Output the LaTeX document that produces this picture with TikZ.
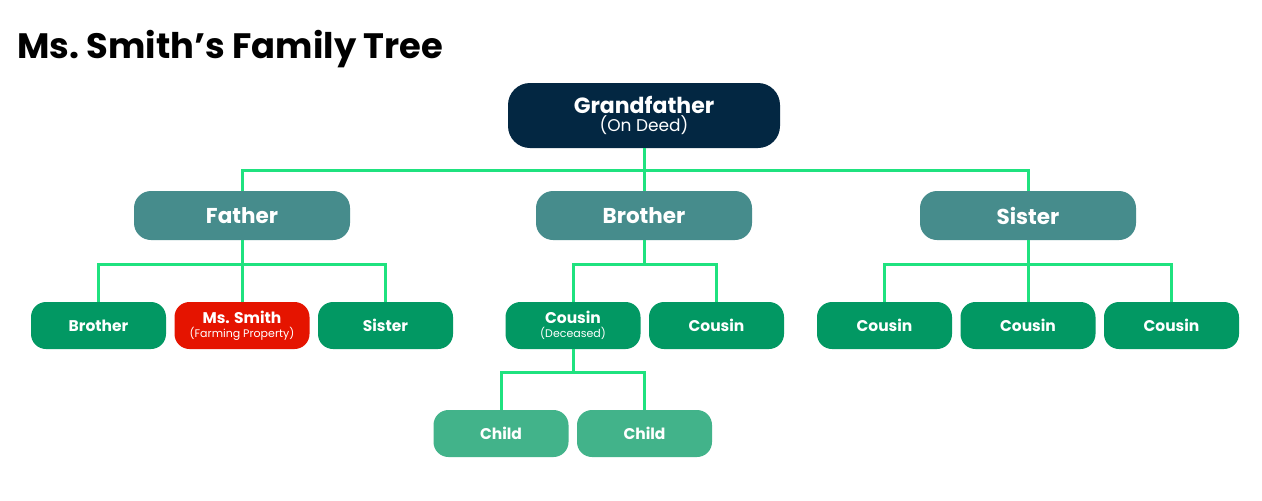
\documentclass[tikz,border=0pt]{standalone}
\usepackage{fontspec}
\setmainfont{Poppins}
\definecolor{navy}{HTML}{032742}
\definecolor{teal2}{HTML}{468C8C}
\definecolor{green3}{HTML}{029863}
\definecolor{redms}{HTML}{E51400}
\definecolor{child}{HTML}{42B38A}
\definecolor{wire}{HTML}{1FE27F}
\tikzset{
  box/.style={text=white, align=center, inner sep=0pt, rounded corners=#1},
  top/.style={box=22pt, fill=navy, minimum width=272pt, minimum height=65pt},
  mid/.style={box=17pt, fill=teal2, minimum width=216pt, minimum height=49pt, font=\fontsize{21.5}{25}\selectfont\bfseries},
  low/.style={box=15pt, fill=green3, minimum width=135pt, minimum height=47pt, font=\fontsize{15.5}{17}\selectfont\bfseries},
  wires/.style={draw=wire, line width=3pt},
}
\begin{document}
\begin{tikzpicture}[x=1pt,y=-1pt]
\useasboundingbox (0,0) rectangle (1262,501);
\fill[white] (0,0) rectangle (1262,501);
\node[anchor=base west, inner sep=0pt, font=\fontsize{35.3}{40}\selectfont\bfseries] (title) at (17,58) {Ms.~Smith’s Family Tree};

\node[top] (gf) at (644,115.5) {{\fontsize{22}{24}\selectfont\bfseries Grandfather}\\[1pt]{\fontsize{17}{20}\selectfont (On Deed)}};
\node[mid] (fa) at (242,215.5) {Father};
\node[mid] (br) at (644,215.5) {Brother};
\node[mid] (si) at (1028,215.5) {Sister};

\node[low] (fb) at (98.5,325.5) {Brother};
\node[low, fill=redms] (ms) at (242,325.5) {Ms. Smith\\[-3pt]{\fontsize{11}{12}\selectfont\mdseries (Farming Property)}};
\node[low] (fs) at (385.5,325.5) {Sister};
\node[low] (cd) at (573,325.5) {Cousin\\[-3pt]{\fontsize{11}{12}\selectfont\mdseries (Deceased)}};
\node[low] (c1) at (716.5,325.5) {Cousin};
\node[low] (c2) at (884.5,325.5) {Cousin};
\node[low] (c3) at (1028,325.5) {Cousin};
\node[low] (c4) at (1171.5,325.5) {Cousin};

\node[low, fill=child] (ch1) at (501,433.5) {Child};
\node[low, fill=child] (ch2) at (644.5,433.5) {Child};

\draw[wires] (gf.south) -- ++(0,22) coordinate (j0);
\draw[wires] (fa.north) |- (j0) -| (si.north);
\draw[wires] (j0) -- (br.north);

\draw[wires] (fa.south) -- ++(0,24) coordinate (j1);
\draw[wires] (fb.north) |- (j1) -| (fs.north);
\draw[wires] (j1) -- (ms.north);

\draw[wires] (br.south) -- ++(0,24) coordinate (j2);
\draw[wires] (cd.north) |- (j2) -| (c1.north);

\draw[wires] (si.south) -- ++(0,24) coordinate (j3);
\draw[wires] (c2.north) |- (j3) -| (c4.north);
\draw[wires] (j3) -- (c3.north);

\draw[wires] (cd.south) -- ++(0,23) coordinate (j4);
\draw[wires] (ch1.north) |- (j4) -| (ch2.north);
\end{tikzpicture}
\end{document}
